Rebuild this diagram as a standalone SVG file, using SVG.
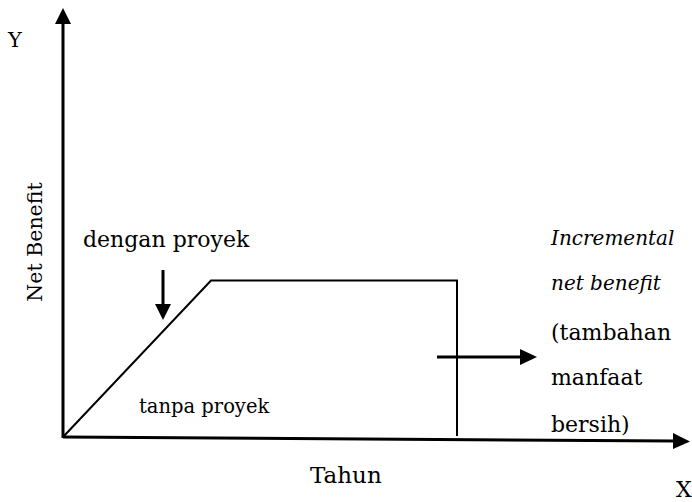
<svg xmlns="http://www.w3.org/2000/svg" width="692" height="502" viewBox="0 0 692 502">
<style>
.ln{stroke:#000;stroke-width:2;fill:none}
.th{stroke:#000;stroke-width:3;fill:none}
text{font-family:'DejaVu Serif','Liberation Serif',serif;fill:#000;font-size:22px}
.i{font-style:italic;font-size:20px}
</style>
<rect width="692" height="502" fill="#fff"/>
<g id="axes">
<line class="th" x1="63" y1="438" x2="63" y2="24"/>
<path d="M55,24L71,24L63,8z" fill="#000"/>
<line class="th" x1="63" y1="437" x2="674" y2="441"/>
<path d="M673,433L673,449L690,441.5z" fill="#000"/>
</g>
<g id="curve">
<polyline class="ln" points="63,437 211,280.5 457,280.5 457,436"/>
</g>
<g id="connectors">
<line class="th" x1="163" y1="270" x2="163" y2="304"/>
<path d="M155,304L171,304L163,320z" fill="#000"/>
<line class="th" x1="437" y1="357" x2="520" y2="357"/>
<path d="M520,349L520,365L537,357z" fill="#000"/>
</g>
<g id="labels">
<text x="8" y="47" style="font-size:21px">Y</text>
<text x="83" y="247">dengan proyek</text>
<text x="139" y="413" style="font-size:19.5px">tanpa proyek</text>
<text transform="translate(42,242) rotate(-90)" text-anchor="middle" style="font-size:20.5px">Net Benefit</text>
<text x="310" y="483" style="font-size:23px">Tahun</text>
<text x="676" y="497">X</text>
<text class="i" x="551" y="245">Incremental</text>
<text class="i" x="551" y="290">net benefit</text>
<text x="551" y="340">(tambahan</text>
<text x="551" y="385">manfaat</text>
<text x="551" y="432">bersih)</text>
</g>
</svg>
